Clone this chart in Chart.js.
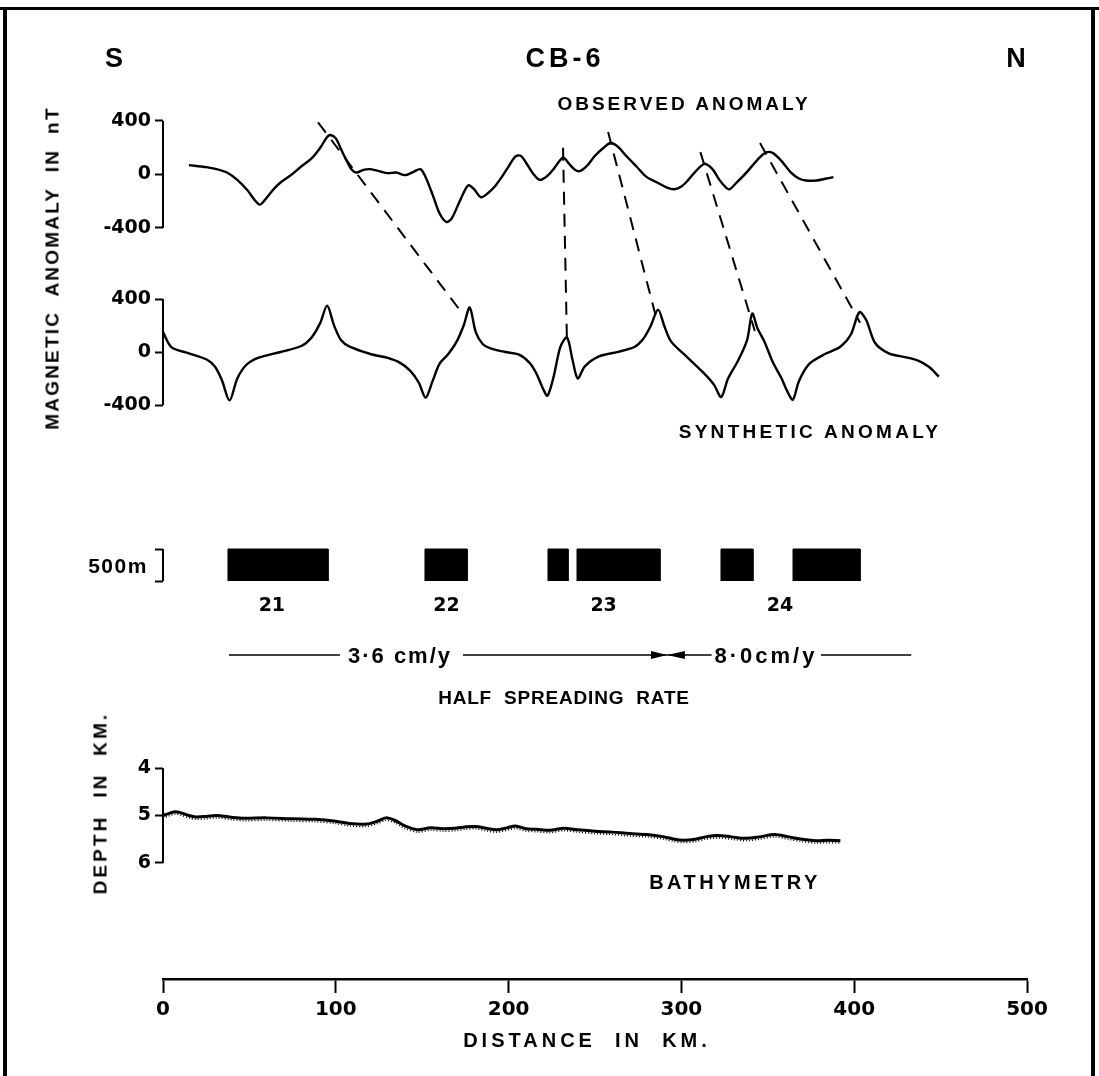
<!DOCTYPE html>
<html>
<head>
<meta charset="utf-8">
<script src="https://cdn.jsdelivr.net/npm/chart.js@4.4.1/dist/chart.umd.min.js"></script>
<style>
  body { margin: 0; background: #fff; }
  #wrap { position: relative; width: 1099px; height: 1076px; overflow: hidden; background: #fff; }
  #chart { position: absolute; left: 0; top: 0; }
  .lbl { position: absolute; font-family: "Liberation Sans", Arial, sans-serif; font-weight: bold; color: #000;
         white-space: pre; transform: translate(-50%, -50%); line-height: 1; }
  .num { font-family: "DejaVu Sans", sans-serif; }
  .rot { transform: translate(-50%, -50%) rotate(-90deg); }
  .frame { position: absolute; background: #000; }
</style>
</head>
<body>
<div id="wrap">
  <canvas id="chart" width="1099" height="1076"></canvas>

  <div class="frame" style="left:3px;top:7px;width:4px;height:1069px"></div>
  <div class="frame" style="left:0;top:7px;width:1099px;height:3px"></div>
  <div class="frame" style="left:1091px;top:7px;width:4px;height:1069px"></div>

  <div class="lbl" style="left:114px;top:58px;font-size:27px">S</div>
  <div class="lbl" style="left:565px;top:58px;font-size:27px;letter-spacing:4px">CB-6</div>
  <div class="lbl" style="left:1016px;top:58px;font-size:27px">N</div>

  <div class="lbl" style="left:684px;top:103px;font-size:19px;letter-spacing:3px">OBSERVED ANOMALY</div>
  <div class="lbl" style="left:810px;top:431px;font-size:19px;letter-spacing:3.3px">SYNTHETIC ANOMALY</div>
  <div class="lbl rot" style="left:52px;top:268px;font-size:19px;letter-spacing:2.2px">MAGNETIC  ANOMALY  IN  nT</div>

  <div class="lbl" style="left:118px;top:565px;font-size:21px;letter-spacing:1.5px">500m</div>

  <div class="lbl" style="left:400px;top:656px;font-size:22px;letter-spacing:2px">3·6 cm/y</div>
  <div class="lbl" style="left:766px;top:656px;font-size:22px;letter-spacing:3px">8·0cm/y</div>
  <div class="lbl" style="left:564px;top:697px;font-size:19px;letter-spacing:0.8px;word-spacing:6px">HALF SPREADING RATE</div>

  <div class="lbl rot" style="left:100px;top:803px;font-size:19px;letter-spacing:3.1px">DEPTH  IN  KM.</div>
  <div class="lbl" style="left:735px;top:882px;font-size:20px;letter-spacing:3.5px">BATHYMETRY</div>
  <div class="lbl" style="left:587px;top:1040px;font-size:20px;letter-spacing:4px">DISTANCE  IN  KM.</div>
</div>

<script>
// observed magnetic anomaly (distance km, nT)
const obsKm = [15,25,31,37,43,49,53,56,59,64,68,74,80,86,91,95,97,100,103,106,109,112,116,120,125,130,135,140,145,149,152,156,160,164,167,171,175,177,180,184,188,192,196,200,204,207,210,214,218,222,226,230,232,235,238,241,245,250,255,259,263,268,274,280,286,292,296,300,304,308,312,314,318,322,326,328,332,338,344,349,353,358,363,368,372,378,384,388];
const obsNT = [70,55,40,15,-40,-120,-190,-225,-190,-110,-60,-5,60,120,200,280,295,270,190,110,40,15,35,40,25,10,15,-5,20,40,-20,-150,-290,-355,-330,-220,-110,-80,-110,-170,-140,-90,-20,60,135,140,90,10,-40,-15,40,110,125,80,40,25,60,140,200,235,210,140,60,-20,-60,-100,-110,-90,-40,20,70,80,40,-40,-100,-110,-60,20,110,165,160,100,20,-30,-45,-45,-30,-20];

// synthetic anomaly
const synKm = [0,5,15,25,30,34,38.5,43,48,55,68,80,86,91,95,99,103,108,120,130,137,143,148,152,156,160,165,170,174,177.5,181,185,190,198,206,212,216,220,222.5,226,230,233.8,237,240,244,252,264,273,278,282,286.5,290,294,303,313,319,323,327,333,338,341,344,348,353,358,361,364.5,368,374,384,392,398,403,407,412,420,430,437,443,449];
const synNT = [150,35,-10,-55,-110,-210,-365,-200,-100,-45,0,45,110,220,350,200,90,40,-15,-45,-80,-140,-230,-345,-220,-90,-17,80,200,335,150,60,25,0,-20,-80,-160,-280,-330,-190,40,110,-60,-200,-110,-35,3,40,100,190,320,200,80,-35,-160,-250,-340,-200,-60,90,290,180,80,-80,-200,-290,-360,-220,-90,-10,40,130,300,240,70,-10,-40,-65,-110,-185];

// correlation lines: observed peak -> synthetic peak
const linkObsKm = [89.7, 231.5, 257.6, 311, 345.5];
const linkObsNT = [390, 200, 317, 167, 235];
const linkSynKm = [173, 233.8, 286, 342.5, 403.4];
const linkSynNT = [295, 60, 229, 158, 221];

// normally magnetised blocks
const blockStart = [37.6, 151.6, 222.8, 239.6, 322.9, 364.6];
const blockEnd = [95.5, 176, 234.4, 287.6, 341.4, 403.4];
const chronNames = ["21", "22", "23", "24"];
const chronKm = [63, 164, 255, 357];

// bathymetry (km depth)
const bathyKm = [0,4,7,11,15,19,25,31,40,47,60,75,88,100,108,118,124,129,134,140,147,155,162,169,175,181,187,193,199,204,210,216,224,232,240,250,260,270,280,290,296,301,308,314,321,329,337,345,354,362,370,378,385,392];
const bathyDepth = [5.0,4.95,4.92,4.95,5.0,5.03,5.02,5.0,5.04,5.06,5.05,5.07,5.08,5.12,5.17,5.18,5.12,5.05,5.1,5.22,5.3,5.26,5.28,5.27,5.24,5.23,5.27,5.3,5.26,5.22,5.28,5.29,5.31,5.27,5.3,5.33,5.35,5.38,5.4,5.45,5.5,5.52,5.5,5.45,5.42,5.45,5.48,5.45,5.4,5.45,5.5,5.53,5.52,5.53];
const bathyDotDepth = [5.05,5.0,4.97,5.0,5.05,5.08,5.07,5.05,5.09,5.11,5.1,5.12,5.13,5.17,5.22,5.23,5.17,5.1,5.15,5.27,5.35,5.31,5.33,5.32,5.29,5.28,5.32,5.35,5.31,5.27,5.33,5.34,5.36,5.32,5.35,5.38,5.4,5.43,5.45,5.5,5.55,5.57,5.55,5.5,5.47,5.5,5.53,5.5,5.45,5.5,5.55,5.58,5.57,5.58];

// tick labels
const magTicks = [-400, 0, 400];
const blockTicks = [0, 1];
const depthTicks = [4, 5, 6];
const distTicks = [0, 100, 200, 300, 400, 500];

// layout (pixels)
const TOP = 100, BOTTOM = 979, LEFT = 163, RIGHT = 1027;
const RATE_Y = 655;

// choose min/max so that value v1 sits at pixel p1 and v2 at p2
function rangeFor(v1, p1, v2, p2, reverse) {
    let upp = Math.abs(v1 - v2) / (p2 - p1);
    if (reverse) return { min: v1 - (p1 - TOP) * upp, max: v2 + (BOTTOM - p2) * upp, reverse: true };
    return { min: v2 - (BOTTOM - p2) * upp, max: v1 + (p1 - TOP) * upp, reverse: false };
}

const yFont = { family: "DejaVu Sans", weight: "bold", size: 19 };
const xFont = { family: "DejaVu Sans", weight: "bold", size: 20 };

function yScale(r, ticks, showLabels) {
    return {
        type: "linear", position: "left", bounds: "data",
        min: r.min, max: r.max, reverse: r.reverse,
        grid: { display: true, drawOnChartArea: false, drawTicks: true, tickLength: 8, tickWidth: 2, tickColor: "#000" },
        border: { display: false },
        ticks: { color: "#000", padding: 4, font: yFont, autoSkip: false,
                 callback: v => showLabels ? String(v) : "" },
        afterBuildTicks: s => { s.ticks = ticks.map(v => ({ value: v })); },
        afterFit: s => { s.width = 0; s.paddingTop = 0; s.paddingBottom = 0; }
    };
}

function pts(xs, ys) {
    return xs.map((x, i) => ({ x: x, y: ys[i] }));
}

function line(data, axis, width, extra) {
    return Object.assign({
        type: "line", data: data, yAxisID: axis, borderColor: "#000", borderWidth: width,
        pointRadius: 0, tension: 0.3, fill: false
    }, extra || {});
}

let datasets = [
    line(pts(obsKm, obsNT), "yObs", 2.4),
    line(pts(synKm, synNT), "ySyn", 2.4),
    line(pts(bathyKm, bathyDotDepth), "yDep", 1.6, { borderDash: [1, 2] }),
    line(pts(bathyKm, bathyDepth), "yDep", 3)
];

blockStart.forEach((s, i) => {
    let e = blockEnd[i];
    datasets.push(line([{ x: s, y: 0 }, { x: s, y: 1 }, { x: e, y: 1 }, { x: e, y: 0 }], "yBlk", 1,
        { tension: 0, fill: "origin", backgroundColor: "#000" }));
});

// extra drawing: axis brackets, correlation lines, spreading-rate line
const extras = {
    id: "extras",
    afterLayout(chart) {
        // zero-width y axes share the x=0 line; widen their label clip box to the left
        ["yObs", "ySyn", "yBlk", "yDep"].forEach(id => { chart.scales[id].left = 0; });
    },
    afterDatasetsDraw(chart) {
        let ctx = chart.ctx;
        let x = chart.scales.x;
        ctx.save();
        ctx.strokeStyle = "#000";
        ctx.fillStyle = "#000";
        ctx.lineWidth = 2;

        [["yObs", magTicks], ["ySyn", magTicks], ["yBlk", blockTicks], ["yDep", depthTicks]].forEach(([id, t]) => {
            let s = chart.scales[id];
            ctx.beginPath();
            ctx.moveTo(s.right, s.getPixelForValue(Math.min(...t)));
            ctx.lineTo(s.right, s.getPixelForValue(Math.max(...t)));
            ctx.stroke();
        });

        ctx.setLineDash([13, 9]);
        for (let i = 0; i < linkObsKm.length; i++) {
            ctx.beginPath();
            ctx.moveTo(x.getPixelForValue(linkObsKm[i]), chart.scales.yObs.getPixelForValue(linkObsNT[i]));
            ctx.lineTo(x.getPixelForValue(linkSynKm[i]), chart.scales.ySyn.getPixelForValue(linkSynNT[i]));
            ctx.stroke();
        }
        ctx.setLineDash([]);

        ctx.lineWidth = 1.5;
        [[38.2, 102.4], [173.6, 292], [292, 317.5], [380.8, 433]].forEach(([a, b]) => {
            ctx.beginPath();
            ctx.moveTo(x.getPixelForValue(a), RATE_Y);
            ctx.lineTo(x.getPixelForValue(b), RATE_Y);
            ctx.stroke();
        });
        let tip = x.getPixelForValue(291.7);
        ctx.beginPath();
        ctx.moveTo(x.getPixelForValue(282.4), RATE_Y - 4);
        ctx.lineTo(tip, RATE_Y);
        ctx.lineTo(x.getPixelForValue(282.4), RATE_Y + 4);
        ctx.closePath();
        ctx.fill();
        ctx.beginPath();
        ctx.moveTo(x.getPixelForValue(302), RATE_Y - 4);
        ctx.lineTo(tip, RATE_Y);
        ctx.lineTo(x.getPixelForValue(302), RATE_Y + 4);
        ctx.closePath();
        ctx.fill();
        ctx.restore();
    }
};

let chart = new Chart(document.getElementById("chart"), {
    type: "line",
    data: { datasets: datasets },
    options: {
        responsive: false,
        animation: false,
        devicePixelRatio: 1,
        layout: { padding: { left: LEFT, right: 1099 - RIGHT, top: TOP, bottom: 0 } },
        plugins: { legend: { display: false }, tooltip: { enabled: false } },
        scales: {
            x: {
                type: "linear", position: "bottom", min: 0, max: 500, bounds: "data",
                grid: { display: true, drawOnChartArea: false, drawTicks: true, tickLength: 14, tickWidth: 2, tickColor: "#000" },
                border: { display: true, color: "#000", width: 2.5 },
                ticks: { color: "#000", padding: 5, font: xFont, autoSkip: false, maxRotation: 0 },
                afterBuildTicks: s => { s.ticks = distTicks.map(v => ({ value: v })); },
                afterFit: s => { s.height = 1076 - BOTTOM; s.paddingLeft = 0; s.paddingRight = 0; }
            },
            yObs: yScale(rangeFor(400, 121, -400, 228), magTicks, true),
            ySyn: yScale(rangeFor(400, 299, -400, 405), magTicks, true),
            yBlk: yScale(rangeFor(1, 549, 0, 581), blockTicks, false),
            yDep: yScale(rangeFor(4, 768, 6, 863, true), depthTicks, true)
        }
    },
    plugins: [extras]
});

// chron numbers under the blocks
let wrap = document.getElementById("wrap");
chronNames.forEach((n, i) => {
    let d = document.createElement("div");
    d.className = "lbl num";
    d.style.left = chart.scales.x.getPixelForValue(chronKm[i]) + "px";
    d.style.top = "604px";
    d.style.fontSize = "19px";
    d.textContent = n;
    wrap.appendChild(d);
});
</script>
</body>
</html>
